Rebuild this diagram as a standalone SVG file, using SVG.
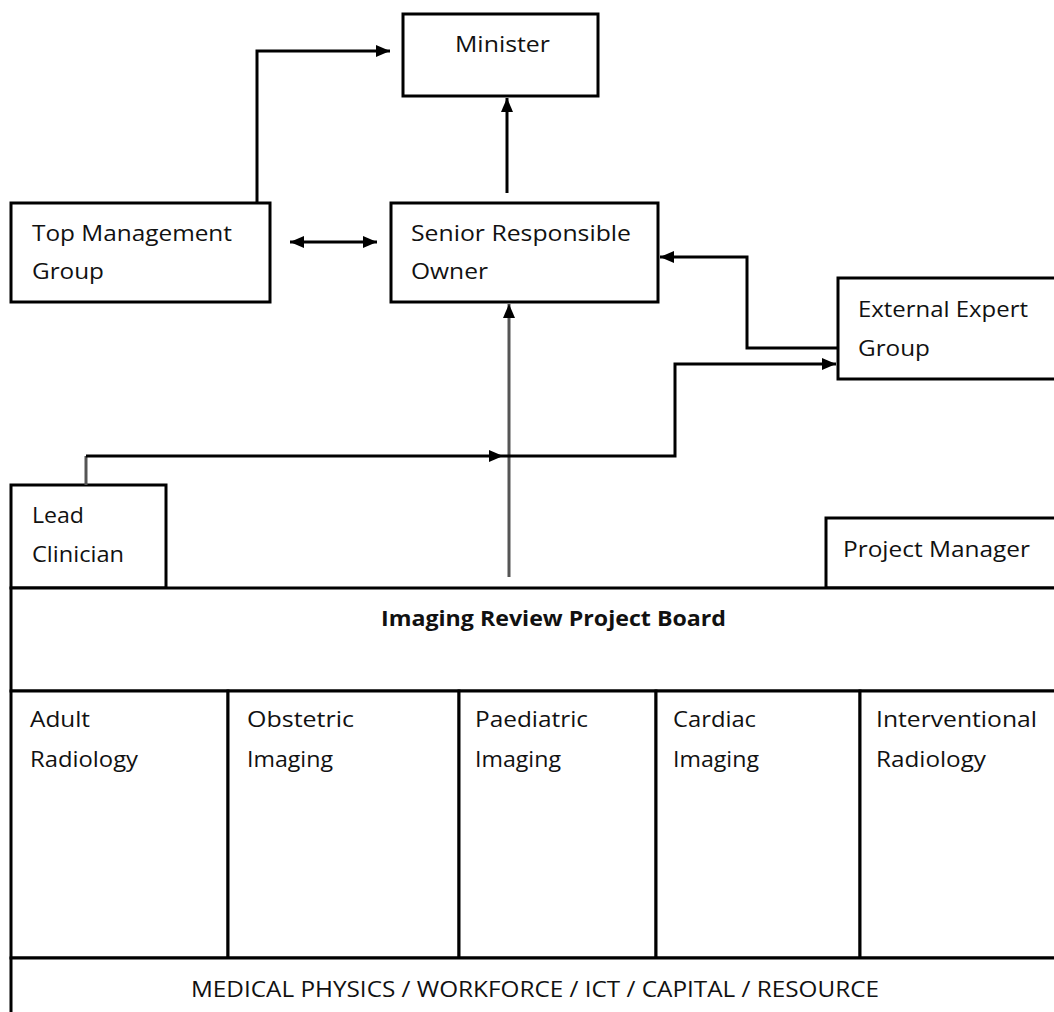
<svg xmlns="http://www.w3.org/2000/svg" width="1054" height="1012" viewBox="0 0 1054 1012">
<style>
.box{fill:#fff;stroke:#000;stroke-width:3}
.ln{fill:none;stroke:#000;stroke-width:3}
.gl{fill:none;stroke:#555;stroke-width:3}
text{font-family:"Open Sans","Liberation Sans",Arial,sans-serif;font-size:22px;fill:#111}
</style>
<defs>
<marker id="ah" markerUnits="userSpaceOnUse" markerWidth="16" markerHeight="14" refX="14" refY="7" orient="auto-start-reverse">
<path d="M0,1 L14,7 L0,13 z" fill="#000"/>
</marker>
</defs>
<rect x="0" y="0" width="1054" height="1012" fill="#fff"/>
<g id="minister"><rect class="box" x="403" y="14" width="195" height="82"/><text x="455" y="52" textLength="95" lengthAdjust="spacingAndGlyphs">Minister</text></g>
<g id="sro"><rect class="box" x="391" y="203" width="267" height="99"/><text x="411" y="241" textLength="220" lengthAdjust="spacingAndGlyphs">Senior Responsible</text><text x="411" y="279" textLength="77" lengthAdjust="spacingAndGlyphs">Owner</text></g>
<g id="tmg"><rect class="box" x="11" y="203" width="259" height="99"/><text x="32" y="241" textLength="200" lengthAdjust="spacingAndGlyphs">Top Management</text><text x="32" y="279" textLength="72" lengthAdjust="spacingAndGlyphs">Group</text></g>
<g id="eeg"><rect class="box" x="838" y="278" width="220" height="101"/><text x="858" y="317" textLength="170" lengthAdjust="spacingAndGlyphs">External Expert</text><text x="858" y="356" textLength="72" lengthAdjust="spacingAndGlyphs">Group</text></g>
<g id="lead"><rect class="box" x="11" y="485" width="155" height="103"/><text x="32" y="523" textLength="52" lengthAdjust="spacingAndGlyphs">Lead</text><text x="32" y="562" textLength="92" lengthAdjust="spacingAndGlyphs">Clinician</text></g>
<g id="pm"><rect class="box" x="826" y="518" width="232" height="70"/><text x="843" y="557" textLength="187" lengthAdjust="spacingAndGlyphs">Project Manager</text></g>
<g id="board"><rect class="box" x="11" y="588" width="1047" height="103"/><text x="381" y="626" textLength="345" lengthAdjust="spacingAndGlyphs" font-weight="bold">Imaging  Review Project Board</text></g>
<g id="adult"><rect class="box" x="11" y="691" width="217" height="267"/><text x="30" y="727" textLength="60" lengthAdjust="spacingAndGlyphs">Adult</text><text x="30" y="767" textLength="108" lengthAdjust="spacingAndGlyphs">Radiology</text></g>
<g id="obstetric"><rect class="box" x="228" y="691" width="231" height="267"/><text x="247" y="727" textLength="107" lengthAdjust="spacingAndGlyphs">Obstetric</text><text x="247" y="767" textLength="86" lengthAdjust="spacingAndGlyphs">Imaging</text></g>
<g id="paediatric"><rect class="box" x="459" y="691" width="197" height="267"/><text x="475" y="727" textLength="113" lengthAdjust="spacingAndGlyphs">Paediatric</text><text x="475" y="767" textLength="86" lengthAdjust="spacingAndGlyphs">Imaging</text></g>
<g id="cardiac"><rect class="box" x="656" y="691" width="204" height="267"/><text x="673" y="727" textLength="83" lengthAdjust="spacingAndGlyphs">Cardiac</text><text x="673" y="767" textLength="86" lengthAdjust="spacingAndGlyphs">Imaging</text></g>
<g id="interventional"><rect class="box" x="860" y="691" width="198" height="267"/><text x="876" y="727" textLength="161" lengthAdjust="spacingAndGlyphs">Interventional</text><text x="876" y="767" textLength="110" lengthAdjust="spacingAndGlyphs">Radiology</text></g>
<g id="resources"><rect class="box" x="11" y="958" width="1047" height="60"/><text x="191" y="997" textLength="688" lengthAdjust="spacingAndGlyphs">MEDICAL PHYSICS / WORKFORCE / ICT / CAPITAL / RESOURCE</text></g>
<g id="connectors">
<path class="ln" d="M257,203 V51 H390" marker-end="url(#ah)"/>
<path class="ln" d="M507,193 V98" marker-end="url(#ah)"/>
<path class="ln" d="M290,242 H377" marker-start="url(#ah)" marker-end="url(#ah)"/>
<path class="ln" d="M838,348 H747 V257 H660" marker-end="url(#ah)"/>
<path class="gl" d="M509,577 V304" marker-end="url(#ah)"/>
<path class="gl" d="M86,485 V456"/>
<path class="ln" d="M86,456 H503" marker-end="url(#ah)"/>
<path class="ln" d="M503,456 H675 V364 H836" marker-end="url(#ah)"/>
</g>
</svg>
